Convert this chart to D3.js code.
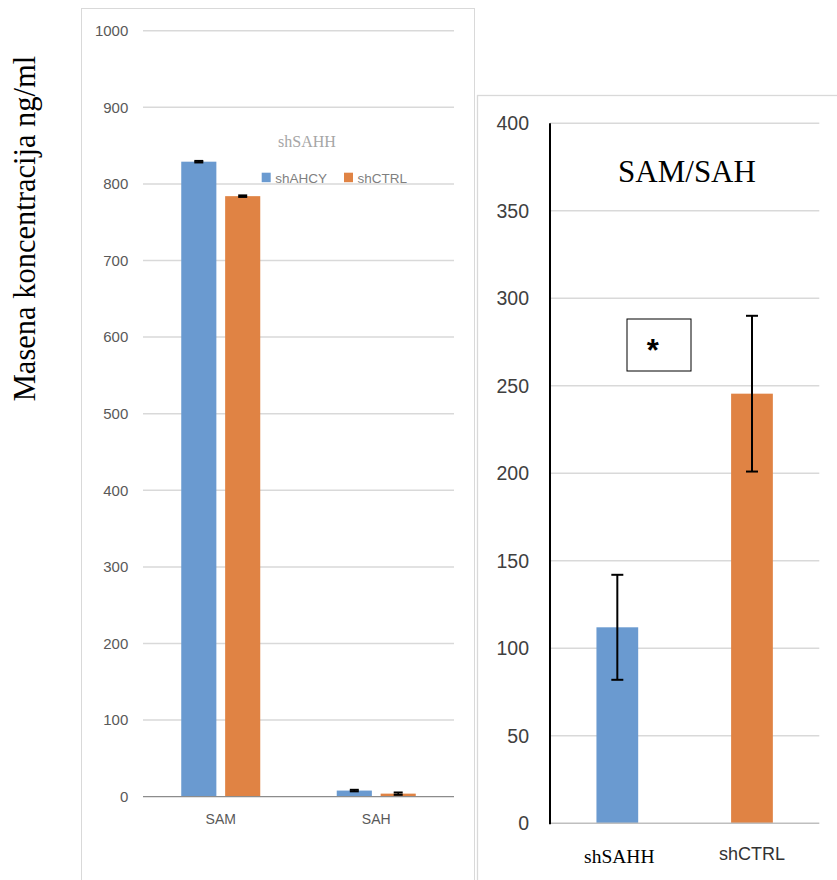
<!DOCTYPE html>
<html>
<head>
<meta charset="utf-8">
<script src="https://cdn.jsdelivr.net/npm/d3@7/dist/d3.min.js"></script>
<style>
  html, body { margin: 0; padding: 0; background: #fff; }
  svg { display: block; }
</style>
</head>
<body>
<svg id="chart" width="837" height="880"></svg>
<script>
// ---------- data ----------
const leftCategories = ["SAM", "SAH"];
const leftSeries = ["shAHCY", "shCTRL"];
const shAHCYValues = [829, 8];
const shCTRLValues = [784, 4];
const shAHCYErr = [1, 1];
const shCTRLErr = [1, 1.5];
const leftTicks = [0, 100, 200, 300, 400, 500, 600, 700, 800, 900, 1000];
const leftLegendTitle = "shSAHH";
const yAxisTitle = "Masena koncentracija ng/ml";

const rightCategories = ["shSAHH", "shCTRL"];
const ratioValues = [112, 245.5];
const ratioErr = [30, 44.5];
const rightTicks = [0, 50, 100, 150, 200, 250, 300, 350, 400];
const rightTitle = "SAM/SAH";
const significance = "*";

const colors = { shAHCY: "#6a9ad0", shCTRL: "#e08344" };
const rightColors = ["#6a9ad0", "#e08344"];

const svg = d3.select("#chart");

// ---------- panel frames ----------
svg.append("rect").attr("x", 81.5).attr("y", 8.5).attr("width", 393).attr("height", 900)
  .attr("fill", "#fff").attr("stroke", "#d9d9d9").attr("stroke-width", 1);

// ---------- left chart ----------
const yL = d3.scaleLinear().domain([0, 1000]).range([796.7, 30.7]);
const xL = d3.scaleBand().domain(leftCategories).range([143, 454]).padding(0);
const xLInner = d3.scaleBand().domain(leftSeries).range([-39.5, 39.5]).paddingInner(0.2);

const gL = svg.append("g");
gL.selectAll("line.grid").data(leftTicks.filter(d => d > 0)).join("line")
  .attr("x1", 143).attr("x2", 454)
  .attr("y1", d => yL(d)).attr("y2", d => yL(d))
  .attr("stroke", "#d9d9d9").attr("stroke-width", 1.5);

const leftAxis = d3.axisLeft(yL).tickValues(leftTicks).tickSize(0).tickPadding(14.7)
  .tickFormat(d3.format("d"));
const gLA = gL.append("g").attr("transform", "translate(143,0)").call(leftAxis);
gLA.select(".domain").remove();
gLA.selectAll("text").attr("font-family", "'Liberation Sans', Arial, sans-serif")
  .attr("font-size", 15).attr("fill", "#595959");

const leftRows = [];
leftCategories.forEach((c, i) => {
  leftRows.push({ cat: c, series: "shAHCY", v: shAHCYValues[i], e: shAHCYErr[i] });
  leftRows.push({ cat: c, series: "shCTRL", v: shCTRLValues[i], e: shCTRLErr[i] });
});

gL.selectAll("rect.bar").data(leftRows).join("rect")
  .attr("x", d => xL(d.cat) + xL.bandwidth() / 2 + xLInner(d.series))
  .attr("width", xLInner.bandwidth())
  .attr("y", d => yL(d.v))
  .attr("height", d => yL(0) - yL(d.v))
  .attr("fill", d => colors[d.series]);

// x axis line at 0
gL.append("line").attr("x1", 143).attr("x2", 454).attr("y1", yL(0)).attr("y2", yL(0))
  .attr("stroke", "#8c8c8c").attr("stroke-width", 1.3);

// error bars
const ebL = gL.selectAll("g.eb").data(leftRows).join("g");
ebL.each(function (d) {
  const cx = xL(d.cat) + xL.bandwidth() / 2 + xLInner(d.series) + xLInner.bandwidth() / 2;
  const g = d3.select(this);
  g.append("line").attr("x1", cx).attr("x2", cx).attr("y1", yL(d.v + d.e)).attr("y2", yL(d.v - d.e))
    .attr("stroke", "#000").attr("stroke-width", 1.5);
  [d.v + d.e, d.v - d.e].forEach(y => {
    g.append("line").attr("x1", cx - 4.5).attr("x2", cx + 4.5).attr("y1", yL(y)).attr("y2", yL(y))
      .attr("stroke", "#000").attr("stroke-width", 2);
  });
});

// category labels
gL.selectAll("text.cat").data(leftCategories).join("text")
  .attr("x", d => xL(d) + xL.bandwidth() / 2).attr("y", 824)
  .attr("text-anchor", "middle")
  .attr("font-family", "'Liberation Sans', Arial, sans-serif")
  .attr("font-size", 14).attr("fill", "#595959").text(d => d);

// legend
gL.append("text").attr("x", 307).attr("y", 146.7).attr("text-anchor", "middle")
  .attr("font-family", "'Liberation Serif', 'Times New Roman', serif")
  .attr("font-size", 16).attr("fill", "#a6a6a6").text(leftLegendTitle);
const legX = [261.7, 344];
const leg = gL.selectAll("g.leg").data(leftSeries).join("g")
  .attr("transform", (d, i) => `translate(${legX[i]},172.7)`);
leg.append("rect").attr("width", 9).attr("height", 9.5).attr("fill", d => colors[d]);
leg.append("text").attr("x", 13.5).attr("y", 9.8)
  .attr("font-family", "'Liberation Sans', Arial, sans-serif")
  .attr("font-size", 13.5).attr("fill", "#7f7f7f").text(d => d);

// y-axis title
svg.append("text").attr("transform", "translate(35,228.5) rotate(-90)")
  .attr("text-anchor", "middle")
  .attr("font-family", "'Liberation Serif', 'Times New Roman', serif")
  .attr("font-size", 30.5).attr("fill", "#000").text(yAxisTitle);

// ---------- right chart ----------
svg.append("rect").attr("x", 477.5).attr("y", 95.5).attr("width", 400).attr("height", 900)
  .attr("fill", "#fff").attr("stroke", "#d9d9d9").attr("stroke-width", 1.3);

const yR = d3.scaleLinear().domain([0, 400]).range([823.3, 123.3]);
const xR = d3.scaleBand().domain(rightCategories).range([550, 819.3]).padding(0);
const barWR = xR.bandwidth() * 0.31;

const gR = svg.append("g");
gR.selectAll("line.grid").data(rightTicks.filter(d => d > 0)).join("line")
  .attr("x1", 550).attr("x2", 819.3)
  .attr("y1", d => yR(d)).attr("y2", d => yR(d))
  .attr("stroke", "#d9d9d9").attr("stroke-width", 1.5);

const rightAxis = d3.axisLeft(yR).tickValues(rightTicks).tickSize(0).tickPadding(21)
  .tickFormat(d3.format("d"));
const gRA = gR.append("g").attr("transform", "translate(550,0)").call(rightAxis);
gRA.select(".domain").remove();
gRA.selectAll("text").attr("font-family", "'Liberation Sans', Arial, sans-serif")
  .attr("font-size", 19.5).attr("fill", "#404040");

gR.selectAll("rect.bar").data(rightCategories).join("rect")
  .attr("x", d => xR(d) + xR.bandwidth() / 2 - barWR / 2)
  .attr("width", barWR)
  .attr("y", (d, i) => yR(ratioValues[i]))
  .attr("height", (d, i) => yR(0) - yR(ratioValues[i]))
  .attr("fill", (d, i) => rightColors[i]);

// axes lines
gR.append("line").attr("x1", 550).attr("x2", 819.3).attr("y1", yR(0)).attr("y2", yR(0))
  .attr("stroke", "#bfbfbf").attr("stroke-width", 1.5);
gR.append("line").attr("x1", 550).attr("x2", 550).attr("y1", yR(400)).attr("y2", yR(0) + 1)
  .attr("stroke", "#000").attr("stroke-width", 2);

// error bars
rightCategories.forEach((c, i) => {
  const cx = xR(c) + xR.bandwidth() / 2;
  const hi = ratioValues[i] + ratioErr[i], lo = ratioValues[i] - ratioErr[i];
  gR.append("line").attr("x1", cx).attr("x2", cx).attr("y1", yR(hi)).attr("y2", yR(lo))
    .attr("stroke", "#000").attr("stroke-width", 2);
  [hi, lo].forEach(v => {
    gR.append("line").attr("x1", cx - 6).attr("x2", cx + 6).attr("y1", yR(v)).attr("y2", yR(v))
      .attr("stroke", "#000").attr("stroke-width", 2);
  });
});

// title
gR.append("text").attr("x", 687).attr("y", 181.7).attr("text-anchor", "middle")
  .attr("font-family", "'Liberation Serif', 'Times New Roman', serif")
  .attr("font-size", 31).attr("fill", "#000").text(rightTitle);

// significance box
gR.append("rect").attr("x", 627).attr("y", 319).attr("width", 64).attr("height", 52)
  .attr("fill", "#fff").attr("stroke", "#000").attr("stroke-width", 1);
gR.append("text").attr("x", 652.7).attr("y", 361).attr("text-anchor", "middle")
  .attr("font-family", "'Liberation Sans', Arial, sans-serif").attr("font-weight", "bold")
  .attr("font-size", 31).attr("fill", "#000").text(significance);

// category labels
gR.append("text").attr("x", xR("shSAHH") + xR.bandwidth() / 2 + 2).attr("y", 863)
  .attr("text-anchor", "middle")
  .attr("font-family", "'Liberation Serif', 'Times New Roman', serif")
  .attr("font-size", 19.5).attr("fill", "#000").text(rightCategories[0]);
gR.append("text").attr("x", xR("shCTRL") + xR.bandwidth() / 2).attr("y", 860)
  .attr("text-anchor", "middle")
  .attr("font-family", "'Liberation Sans', Arial, sans-serif")
  .attr("font-size", 18).attr("fill", "#333").text(rightCategories[1]);
</script>
</body>
</html>
